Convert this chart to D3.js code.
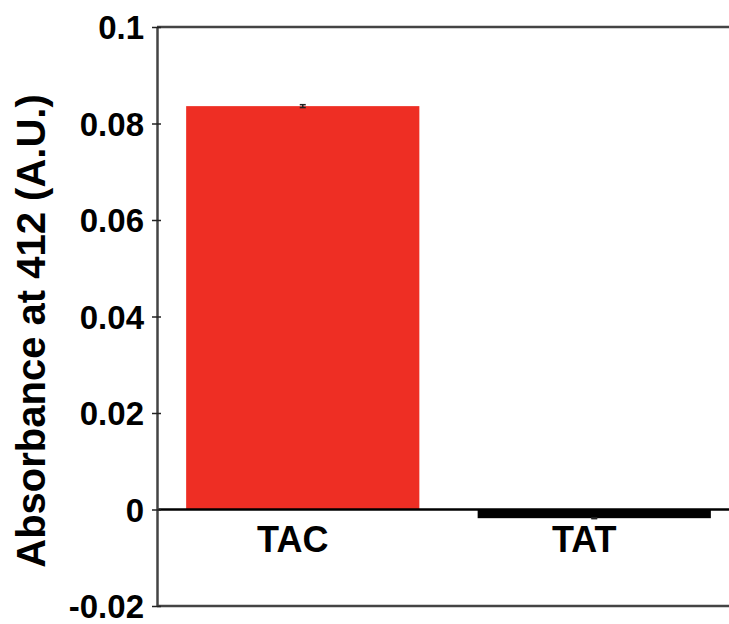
<!DOCTYPE html>
<html><head><meta charset="utf-8">
<script src="https://cdn.jsdelivr.net/npm/d3@7"></script>
<style>body{margin:0;background:#fff}svg{display:block}text{font-family:"Liberation Sans",Arial,Helvetica,sans-serif;font-weight:bold;fill:#000}</style>
</head><body>
<script>
const categories = ["TAC", "TAT"];
const values = [0.0836, -0.0018];
const errors = [0.0003, 0.0001];
const barColors = ["#ee2e24", "#000000"];
const yTicks = [-0.02, 0, 0.02, 0.04, 0.06, 0.08, 0.1];
const yTickLabels = ["-0.02", "0", "0.02", "0.04", "0.06", "0.08", "0.1"];
const yLabel = "Absorbance at 412 (A.U.)";

(function () {
const W = 729, H = 624;
const svg = d3.select("body").append("svg").attr("width", W).attr("height", H);
const mLeft = 157, mRight = 740, mTop = 27, mBottom = 606;

const y = d3.scaleLinear().domain([-0.02, 0.1]).range([mBottom, mTop]);
const x = d3.scaleBand().domain(categories).range([mLeft, mRight]).paddingInner(0.2).paddingOuter(0.1);

// bars
svg.selectAll("rect.bar").data(categories).enter().append("rect")
  .attr("class", "bar")
  .attr("x", d => x(d))
  .attr("width", x.bandwidth())
  .attr("y", (d, i) => y(Math.max(0, values[i])))
  .attr("height", (d, i) => Math.abs(y(values[i]) - y(0)))
  .attr("fill", (d, i) => barColors[i]);

// error bars
categories.forEach((c, i) => {
  const cx = x(c) + x.bandwidth() / 2;
  const g = svg.append("g").attr("stroke", "#222").attr("stroke-width", 1.5);
  g.append("line").attr("x1", cx).attr("x2", cx).attr("y1", y(values[i] + errors[i])).attr("y2", y(values[i] - errors[i]));
  g.append("line").attr("x1", cx - 3).attr("x2", cx + 3).attr("y1", y(values[i] + errors[i])).attr("y2", y(values[i] + errors[i]));
  g.append("line").attr("x1", cx - 3).attr("x2", cx + 3).attr("y1", y(values[i] - errors[i])).attr("y2", y(values[i] - errors[i]));
});

// frame lines
svg.append("line").attr("x1", mLeft).attr("x2", W).attr("y1", y(0.1)).attr("y2", y(0.1)).attr("stroke", "#444").attr("stroke-width", 2.5);
svg.append("line").attr("x1", mLeft).attr("x2", W).attr("y1", y(-0.02)).attr("y2", y(-0.02)).attr("stroke", "#444").attr("stroke-width", 2.5);
svg.append("line").attr("x1", mLeft).attr("x2", W).attr("y1", y(0)).attr("y2", y(0)).attr("stroke", "#000").attr("stroke-width", 2.5);

// y axis
const yAxis = d3.axisLeft(y).tickValues(yTicks).tickFormat((d, i) => yTickLabels[i]).tickSizeInner(5).tickSizeOuter(0).tickPadding(6);
const ga = svg.append("g").attr("transform", `translate(${mLeft},0)`).call(yAxis);
ga.select(".domain").attr("stroke", "#444").attr("stroke-width", 2.5);
ga.selectAll(".tick line").attr("stroke", "#222").attr("stroke-width", 1.5).attr("x2", 4).attr("x1", -5);
ga.selectAll(".tick text").attr("font-size", 33).attr("font-family", '"Liberation Sans",Arial,sans-serif').attr("font-weight", "bold").attr("fill", "#000").attr("dy", "0.36em").attr("x", -13);

// category labels
svg.selectAll("text.cat").data(categories).enter().append("text")
  .attr("class", "cat")
  .attr("x", d => x(d) + x.bandwidth() / 2 - 10)
  .attr("y", 552)
  .attr("text-anchor", "middle")
  .attr("font-size", 36)
  .text(d => d);

// y label
svg.append("text")
  .attr("transform", "translate(45,331) rotate(-90)")
  .attr("text-anchor", "middle")
  .attr("font-size", 40)
  .text(yLabel);
})();
</script>
</body></html>
